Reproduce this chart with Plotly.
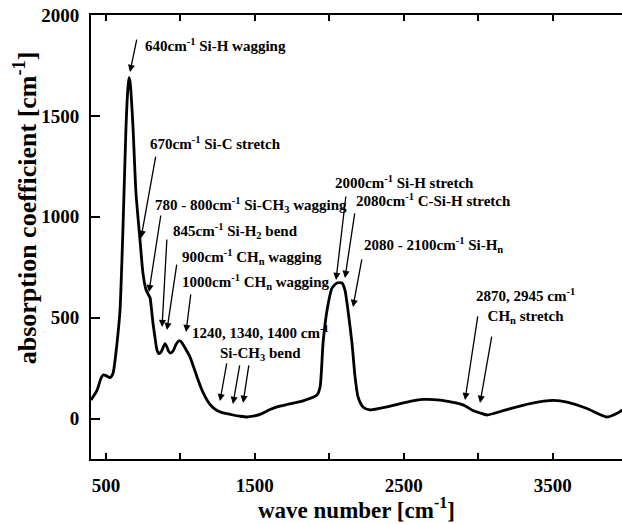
import plotly.graph_objects as go

# IR absorption spectrum of a-SiC:H film
wave_number = [400, 440, 467, 481, 501, 528, 548, 568, 581, 595, 615, 635, 648, 655, 662, 669,
               682, 702, 729, 749, 769, 785, 796, 816, 830, 843, 856, 870, 877, 897, 910, 920,
               935, 951, 971, 990, 1005, 1024, 1065, 1112, 1152, 1199, 1246, 1280, 1313, 1353,
               1400, 1447, 1488, 1548, 1602, 1649, 1716, 1823, 1917, 1938, 1958, 1985, 2018,
               2052, 2085, 2105, 2125, 2152, 2173, 2193, 2226, 2273, 2387, 2522, 2629, 2743,
               2898, 2965, 3012, 3059, 3193, 3348, 3502, 3596, 3730, 3864, 3952, 3965]
absorption = [92, 140, 200, 216, 213, 203, 225, 330, 420, 538, 950, 1445, 1640, 1690, 1670, 1610,
              1445, 1118, 885, 720, 640, 615, 600, 474, 400, 340, 322, 330, 340, 372, 355, 335,
              325, 335, 368, 385, 382, 360, 305, 206, 130, 70, 40, 30, 25, 18,
              12, 8, 12, 25, 45, 58, 70, 88, 117, 157, 375, 538, 647,
              672, 672, 637, 538, 375, 206, 107, 58, 43, 58, 82, 95, 92,
              68, 40, 28, 18, 45, 74, 90, 82, 50, 8, 35, 45]

x_ticks = [500, 1000, 1500, 2000, 2500, 3000, 3500]
x_ticktext = ["500", "", "1500", "", "2500", "", "3500"]
y_ticks = [0, 500, 1000, 1500, 2000]

# band labels: (text, x, y, anchor)
band_labels = [
    ("640cm<sup>-1</sup> Si-H wagging", 749, 1851, "left"),
    ("670cm<sup>-1</sup> Si-C stretch", 783, 1366, "left"),
    ("780 - 800cm<sup>-1</sup> Si-CH<sub>3</sub> wagging", 816, 1059, "left"),
    ("845cm<sup>-1</sup> Si-H<sub>2</sub> bend", 937, 930, "left"),
    ("900cm<sup>-1</sup> CH<sub>n</sub> wagging", 998, 801, "left"),
    ("1000cm<sup>-1</sup> CH<sub>n</sub> wagging", 998, 677, "left"),
    ("1240, 1340, 1400 cm<sup>-1</sup><br>Si-CH<sub>3</sub> bend", 1535, 375, "center"),
    ("2000cm<sup>-1</sup> Si-H stretch", 2025, 1173, "left"),
    ("2080cm<sup>-1</sup> C-Si-H stretch", 2166, 1083, "left"),
    ("2080 - 2100cm<sup>-1</sup> Si-H<sub>n</sub>", 2220, 860, "left"),
    ("2870, 2945 cm<sup>-1</sup><br>CH<sub>n</sub> stretch", 3314, 558, "center"),
]

# arrows: (tail x, tail y, head x, head y)
band_arrows = [
    (709, 1886, 662, 1718),
    (836, 1306, 736, 895),
    (870, 1014, 789, 627),
    (910, 895, 877, 454),
    (977, 771, 910, 439),
    (1071, 623, 1038, 429),
    (1313, 281, 1266, 87),
    (1400, 271, 1353, 73),
    (1461, 271, 1421, 78),
    (2112, 1108, 2045, 687),
    (2172, 1024, 2105, 697),
    (2220, 796, 2159, 553),
    (2998, 514, 2911, 92),
    (3092, 414, 3012, 78),
]

SERIF = "Liberation Serif"

fig = go.Figure()
fig.add_trace(go.Scatter(x=wave_number, y=absorption, mode="lines",
                         line=dict(color="black", width=2.8, shape="spline", smoothing=0.6),
                         hoverinfo="skip", showlegend=False))

annotations = []
for text, x, y, anchor in band_labels:
    annotations.append(dict(x=x, y=y, xref="x", yref="y", text=text, showarrow=False,
                            xanchor=anchor, yanchor="middle", align="center",
                            font=dict(family=SERIF, size=15, color="black", weight="bold")))
for tx, ty, hx, hy in band_arrows:
    annotations.append(dict(x=hx, y=hy, ax=tx, ay=ty, xref="x", yref="y", axref="x", ayref="y",
                            text="", showarrow=True, arrowhead=2, arrowsize=1.1,
                            arrowwidth=1.3, arrowcolor="black", standoff=0))

annotations.append(dict(x=0.5, y=-0.112, xref="paper", yref="paper", showarrow=False,
                        text="wave number [cm<sup>-1</sup>]", xanchor="center", yanchor="middle",
                        font=dict(family=SERIF, size=23, color="black", weight="bold")))
annotations.append(dict(x=-0.124, y=0.565, xref="paper", yref="paper", showarrow=False,
                        text="absorption coefficient [cm<sup>-1</sup>]", textangle=-90,
                        xanchor="center", yanchor="middle",
                        font=dict(family=SERIF, size=26, color="black", weight="bold")))

fig.update_layout(
    width=622, height=524,
    margin=dict(l=91, r=0, t=15, b=65),
    paper_bgcolor="white", plot_bgcolor="white",
    font=dict(family=SERIF, size=19, color="black", weight="bold"),
    annotations=annotations,
    xaxis=dict(range=[400, 3965], tickvals=x_ticks, ticktext=x_ticktext,
               ticks="inside", ticklen=6, tickwidth=1.5, tickcolor="black",
               showline=True, linewidth=2, linecolor="black", mirror="ticks",
               showgrid=False, zeroline=False, ticklabelstandoff=8),
    yaxis=dict(range=[-200, 2000], tickvals=y_ticks,
               ticks="inside", ticklen=9, tickwidth=1.5, tickcolor="black",
               showline=True, linewidth=2, linecolor="black", mirror=False,
               showgrid=False, zeroline=False, ticklabelstandoff=6),
)

fig.write_html("out.html")
